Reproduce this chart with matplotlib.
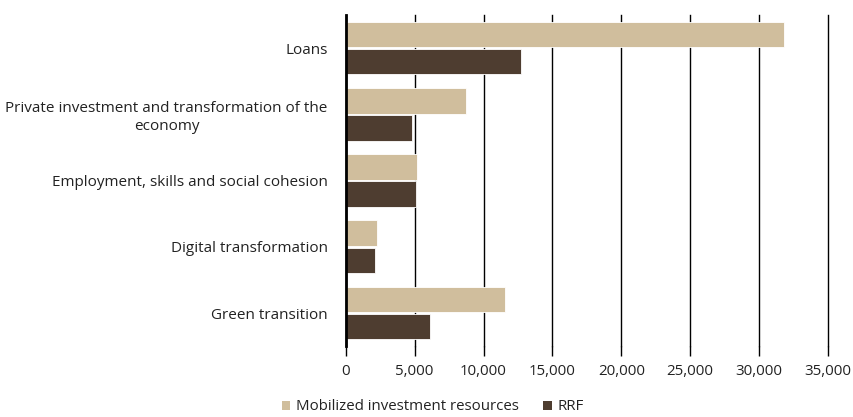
import matplotlib
matplotlib.use("Agg")
import matplotlib.pyplot as plt
import numpy as np
from matplotlib.ticker import FuncFormatter
from matplotlib.patches import Patch

categories = ["Loans",
              "Private investment and transformation of the\neconomy",
              "Employment, skills and social cohesion",
              "Digital transformation",
              "Green transition"]
mobilized = [31800, 8700, 5200, 2300, 11550]
rrf = [12700, 4800, 5130, 2150, 6100]
series_names = ["Mobilized investment resources", "RRF"]
xticks = [0, 5000, 10000, 15000, 20000, 25000, 30000, 35000]

c_mob = "#D0BE9D"
c_rrf = "#4E3D30"

plt.rcParams['font.family'] = ['Open Sans', 'DejaVu Sans']

fig = plt.figure(figsize=(8.54, 4.17), dpi=100)
ax = fig.add_axes([0.4048, 0.170, 0.5648, 0.794])

y = np.arange(len(categories))
h = 0.385
ax.barh(y - h/2 - 0.012, mobilized, height=h, color=c_mob, edgecolor="white", linewidth=0.6, zorder=3)
ax.barh(y + h/2 + 0.012, rrf, height=h, color=c_rrf, edgecolor="white", linewidth=0.6, zorder=3)

ax.set_ylim(len(categories) - 0.5, -0.5)
ax.set_xlim(0, 35000)
ax.set_xticks(xticks)
ax.xaxis.set_major_formatter(FuncFormatter(lambda v, p: f"{int(v):,}"))
ax.set_yticks(y)
ax.set_yticklabels(categories, fontsize=11, color="#222222", multialignment="center")
ax.tick_params(axis="y", length=0, pad=13)
ax.tick_params(axis="x", length=7, width=1, color="black", labelsize=10.8, labelcolor="#222222", pad=6)

ax.grid(axis="x", color="black", linewidth=1, zorder=0)
for gl in ax.get_xgridlines():
    gl.set_clip_on(False)
for s in ["top", "right", "bottom"]:
    ax.spines[s].set_visible(False)
ax.spines["left"].set_linewidth(2)
ax.spines["left"].set_color("black")
ax.spines["left"].set_zorder(4)

handles = [Patch(facecolor=c_mob, edgecolor="none"), Patch(facecolor=c_rrf, edgecolor="none")]
fig.legend(handles, series_names, loc="center", bbox_to_anchor=(0.507, 0.024), ncol=2,
           frameon=False, fontsize=10.8, handlelength=0.55, handleheight=0.55,
           handletextpad=0.4, columnspacing=1.6, labelcolor="#222222")

fig.savefig("out.png", dpi=100)
